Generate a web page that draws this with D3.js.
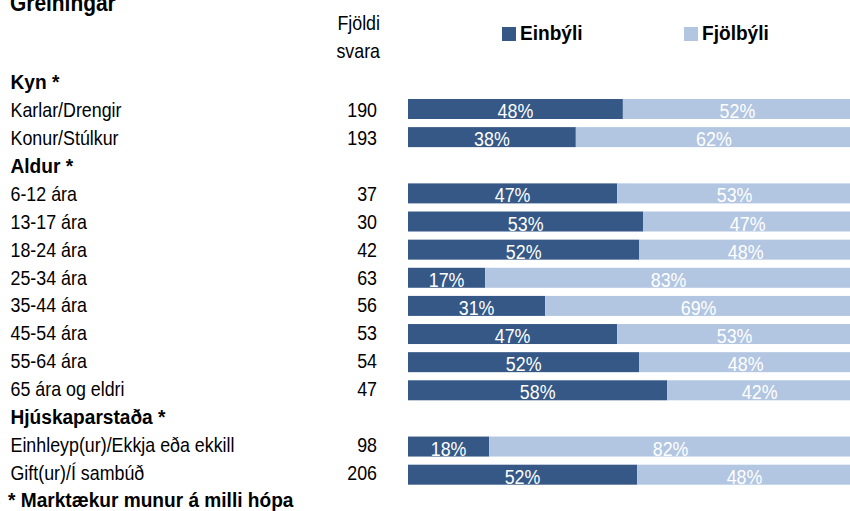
<!DOCTYPE html>
<html>
<head>
<meta charset="utf-8">
<script src="https://cdn.jsdelivr.net/npm/d3@7"></script>
<style>
  html, body { margin: 0; padding: 0; background: #ffffff; }
  svg { display: block; }
  text { font-family: "Liberation Sans", Arial, sans-serif; }
</style>
</head>
<body>
<svg id="chart" width="850" height="511"></svg>
<script>
// ---------- data ----------
const title = "Greiningar";
const countHeader = ["Fjöldi", "svara"];
const seriesNames = ["Einbýli", "Fjölbýli"];
const rowLabels = [
  "Kyn *", "Karlar/Drengir", "Konur/Stúlkur",
  "Aldur *", "6-12 ára", "13-17 ára", "18-24 ára", "25-34 ára", "35-44 ára",
  "45-54 ára", "55-64 ára", "65 ára og eldri",
  "Hjúskaparstaða *", "Einhleyp(ur)/Ekkja eða ekkill", "Gift(ur)/Í sambúð"
];
const headerRows = ["Kyn *", "Aldur *", "Hjúskaparstaða *"];
const counts   = [null, 190, 193, null, 37, 30, 42, 63, 56, 53, 54, 47, null, 98, 206];
const einbyli  = [null, 48.4, 37.8, null, 47.1, 53.0, 52.1, 17.4, 30.9, 47.1, 52.1, 58.4, null, 18.3, 51.6];
const fjolbyli = [null, 51.6, 62.2, null, 52.9, 47.0, 47.9, 82.6, 69.1, 52.9, 47.9, 41.6, null, 81.7, 48.4];
const footnote = "* Marktækur munur á milli hópa";

// ---------- style ----------
const colors = ["#355887", "#b2c6e2"];
const FS = 21;          // font size
const SX_REG = 0.85;    // horizontal condensing of regular text
const SX_BOLD = 0.91;   // horizontal condensing of bold text

const svg = d3.select("#chart");

function txt(x, y, str, opt = {}) {
  const g = svg.append("g")
    .attr("transform", `translate(${x},${y}) scale(${opt.bold ? SX_BOLD : SX_REG},1)`);
  g.append("text")
    .attr("x", 0).attr("y", 0)
    .attr("text-anchor", opt.anchor || "start")
    .attr("font-size", opt.size || FS)
    .attr("font-weight", opt.bold ? "bold" : "normal")
    .attr("fill", opt.fill || "#000000")
    .text(str);
  return g;
}

// ---------- scales ----------
const idx = d3.range(rowLabels.length);
const x = d3.scaleLinear().domain([0, 100]).range([408, 852]);
const yBar = d3.scaleBand().domain(idx)
  .range([66.8, 66.8 + rowLabels.length * 28.13])
  .paddingInner(0.289).paddingOuter(0.1445);
const yText = d3.scaleLinear().domain([0, 14]).range([89.4, 479.6]);

// ---------- bars ----------
const rows = idx.filter(i => einbyli[i] !== null).map(i => ({ i, a: einbyli[i], b: fjolbyli[i] }));
const segs = [];
rows.forEach(r => {
  segs.push({ i: r.i, x0: 0, x1: r.a, v: r.a, s: 0 });
  segs.push({ i: r.i, x0: r.a, x1: r.a + r.b, v: r.b, s: 1 });
});

svg.append("g").selectAll("rect").data(segs).join("rect")
  .attr("x", d => x(d.x0))
  .attr("y", d => yBar(d.i))
  .attr("width", d => x(d.x1) - x(d.x0))
  .attr("height", yBar.bandwidth())
  .attr("fill", d => colors[d.s]);

// percent labels
segs.forEach(d => {
  txt((x(d.x0) + x(d.x1)) / 2, yBar(d.i) + 19, d3.format(".0f")(d.v) + "%",
      { anchor: "middle", fill: "#ffffff" });
});

// ---------- table text ----------
txt(10, 11, title, { bold: true, size: 23 });
txt(380, 30, countHeader[0], { anchor: "end" });
txt(380, 58, countHeader[1], { anchor: "end" });

rowLabels.forEach((lab, i) => {
  const isH = headerRows.includes(lab);
  txt(10.5, yText(i), lab, { bold: isH });
  if (counts[i] !== null) txt(377, yText(i), String(counts[i]), { anchor: "end" });
});
txt(8, yText(15), footnote, { bold: true });

// ---------- legend ----------
const legendX = [502, 684];
seriesNames.forEach((n, k) => {
  svg.append("rect").attr("x", legendX[k]).attr("y", 27).attr("width", 14).attr("height", 14)
    .attr("fill", colors[k]);
  txt(legendX[k] + 18, 40, n, { bold: true });
});
</script>
</body>
</html>
